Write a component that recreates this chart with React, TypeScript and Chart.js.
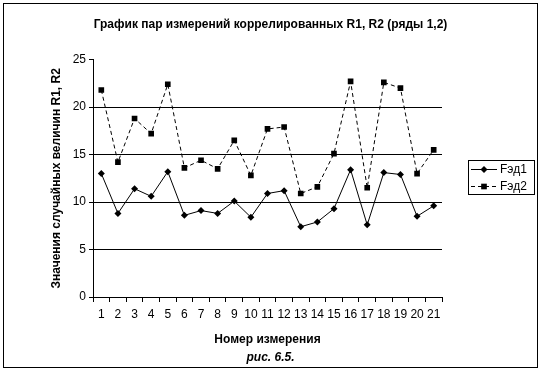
import React, { useEffect, useRef } from 'react';
import { Chart, registerables } from 'chart.js';

Chart.register(...registerables);

const FONT = "'Liberation Sans', Arial, sans-serif";

const chartTitle = 'График пар измерений коррелированных R1, R2 (ряды 1,2)';
const xAxisTitle = 'Номер измерения';
const yAxisTitle = 'Значения случайных величин R1, R2';
const figureCaption = 'рис. 6.5.';

const categories = [
  '1', '2', '3', '4', '5', '6', '7', '8', '9', '10', '11',
  '12', '13', '14', '15', '16', '17', '18', '19', '20', '21',
];
const seriesLabels = ['Fэд1', 'Fэд2'];
const seriesR1 = [
  13.0, 8.8, 11.4, 10.6, 13.2, 8.6, 9.1, 8.8, 10.1, 8.4, 10.9,
  11.2, 7.4, 7.9, 9.3, 13.4, 7.6, 13.1, 12.9, 8.5, 9.6,
];
const seriesR2 = [
  21.8, 14.2, 18.8, 17.2, 22.4, 13.6, 14.4, 13.5, 16.5, 12.8, 17.7,
  17.9, 10.9, 11.6, 15.1, 22.7, 11.5, 22.6, 22.0, 13.0, 15.5,
];
const yMin = 0;
const yMax = 25;
const yStep = 5;

function drawMarker(ctx: CanvasRenderingContext2D, style: string, x: number, y: number, r: number) {
  ctx.beginPath();
  if (style === 'rect') {
    const s = Math.SQRT1_2 * r;
    ctx.rect(x - s, y - s, 2 * s, 2 * s);
  } else {
    ctx.moveTo(x, y - r);
    ctx.lineTo(x + r, y);
    ctx.lineTo(x, y + r);
    ctx.lineTo(x - r, y);
    ctx.closePath();
  }
  ctx.fill();
}

const framePlugin = {
  id: 'frameAndLegend',
  beforeDraw(chart: any) {
    const ctx = chart.ctx;
    ctx.save();
    ctx.fillStyle = '#fff';
    ctx.fillRect(0, 0, chart.width, chart.height);
    ctx.restore();
  },
  afterDraw(chart: any) {
    const ctx: CanvasRenderingContext2D = chart.ctx;
    ctx.save();
    ctx.strokeStyle = '#000';
    ctx.lineWidth = 1;
    ctx.setLineDash([]);
    ctx.strokeRect(3.5, 3.5, 534, 364);
    // legend
    const lx = 468.5;
    const ly = 160.5;
    ctx.strokeRect(lx, ly, 66, 34);
    ctx.font = `12px ${FONT}`;
    ctx.textBaseline = 'middle';
    ctx.textAlign = 'left';
    chart.data.datasets.forEach((ds: any, i: number) => {
      const y = 169.5 + i * 17;
      ctx.strokeStyle = ds.borderColor;
      ctx.fillStyle = ds.backgroundColor;
      ctx.setLineDash(ds.borderDash || []);
      ctx.beginPath();
      ctx.moveTo(471, y);
      ctx.lineTo(497, y);
      ctx.stroke();
      ctx.setLineDash([]);
      drawMarker(ctx, ds.pointStyle, 484, y, ds.pointRadius);
      ctx.fillStyle = '#000';
      ctx.fillText(ds.label, 500, y);
    });
    ctx.restore();
  },
};

export default function App() {
  const canvasRef = useRef<HTMLCanvasElement | null>(null);

  useEffect(() => {
    if (!canvasRef.current) return;
    const chart = new Chart(canvasRef.current, {
      type: 'line',
      data: {
        labels: categories,
        datasets: [
          {
            label: seriesLabels[0],
            data: seriesR1,
            borderColor: '#000',
            backgroundColor: '#000',
            borderWidth: 1,
            pointStyle: 'rectRot',
            pointRadius: 3.5,
            pointBorderWidth: 0,
            pointBackgroundColor: '#000',
            tension: 0,
            yAxisID: 'y',
          },
          {
            label: seriesLabels[1],
            data: seriesR2,
            borderColor: '#000',
            backgroundColor: '#000',
            borderWidth: 1,
            borderDash: [4, 3],
            pointStyle: 'rect',
            pointRadius: 4,
            pointBorderWidth: 0,
            pointBackgroundColor: '#000',
            tension: 0,
            yAxisID: 'y',
          },
        ],
      },
      options: {
        animation: false,
        responsive: false,
        devicePixelRatio: 1,
        layout: { padding: 0 },
        plugins: {
          legend: { display: false },
          tooltip: { enabled: false },
          title: {
            display: true,
            text: chartTitle,
            color: '#000',
            font: { family: FONT, size: 12, weight: 'bold' },
            padding: { top: 17.8, bottom: 27.4 },
          },
          subtitle: {
            display: true,
            position: 'bottom',
            text: figureCaption,
            color: '#000',
            font: { family: FONT, size: 12, weight: 'bold', style: 'italic' },
            padding: { top: 0, bottom: 5.8 },
          },
        },
        scales: {
          x: {
            type: 'category',
            offset: true,
            grid: {
              offset: true,
              drawOnChartArea: false,
              drawTicks: true,
              tickLength: 5,
              color: '#000',
              lineWidth: 1,
            },
            border: { display: true, color: '#000', width: 1 },
            ticks: {
              autoSkip: false,
              maxRotation: 0,
              minRotation: 0,
              padding: 5,
              color: '#000',
              font: { family: FONT, size: 12 },
            },
            title: {
              display: true,
              text: xAxisTitle,
              color: '#000',
              font: { family: FONT, size: 12, weight: 'bold' },
              padding: { top: 0, bottom: 3.6 },
            },
            afterFit: (s: any) => {
              s.height = 53.8;
            },
          },
          y: {
            type: 'linear',
            position: 'left',
            min: yMin,
            max: yMax,
            ticks: {
              stepSize: yStep,
              padding: 3,
              color: '#000',
              font: { family: FONT, size: 12 },
            },
            grid: {
              color: (c: any) => (c.tick && c.tick.value === yMax ? 'rgba(0,0,0,0)' : '#000'),
              tickColor: '#000',
              tickLength: 4,
              lineWidth: 1,
            },
            border: { display: true, color: '#000', width: 1 },
            title: {
              display: true,
              text: yAxisTitle,
              color: '#000',
              font: { family: FONT, size: 12, weight: 'bold' },
              padding: { top: 49.8, bottom: 0 },
            },
            afterFit: (s: any) => {
              s.width = 93;
            },
          },
          y2: {
            type: 'linear',
            position: 'right',
            display: true,
            grid: { display: false },
            border: { display: false },
            ticks: { display: false },
            afterFit: (s: any) => {
              s.width = 99;
            },
          },
        },
      },
      plugins: [framePlugin],
    });
    return () => chart.destroy();
  }, []);

  return (
    <div style={{ position: 'fixed', left: 0, top: 0, width: 541, height: 371 }}>
      <canvas ref={canvasRef} width={541} height={371} style={{ display: 'block', width: 541, height: 371 }} />
    </div>
  );
}
